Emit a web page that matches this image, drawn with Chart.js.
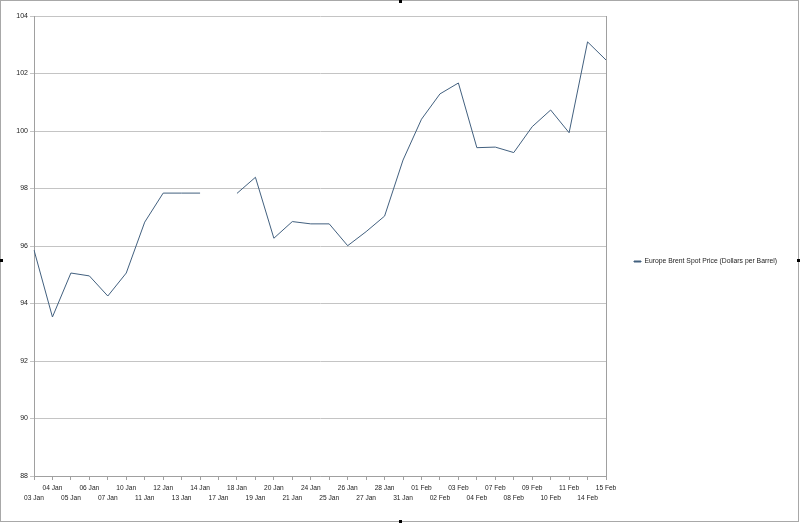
<!DOCTYPE html>
<html>
<head>
<meta charset="utf-8">
<script src="https://cdn.jsdelivr.net/npm/chart.js@4/dist/chart.umd.min.js"></script>
<style>
  html, body { margin: 0; padding: 0; background: #fff; }
  #wrap { position: relative; width: 800px; height: 523px; }
  #grafico { position: absolute; left: 0; top: 0; }
  #marco { position: absolute; left: 0; top: 0; width: 799px; height: 522px; box-sizing: border-box; border: 1px solid #a8a8a8; pointer-events: none; }
  .asa { position: absolute; width: 3px; height: 3px; background: #000; }
</style>
</head>
<body>
<div id="wrap">
  <canvas id="grafico" width="800" height="523"></canvas>
  <div id="marco"></div>
  <div class="asa" style="left:399px;top:0"></div>
  <div class="asa" style="left:0;top:259px"></div>
  <div class="asa" style="left:797px;top:259px"></div>
  <div class="asa" style="left:399px;top:520px"></div>
</div>
<script>
// fechas (dias habiles)
const fechas = [
  "03 Jan", "04 Jan", "05 Jan", "06 Jan", "07 Jan", "10 Jan", "11 Jan", "12 Jan",
  "13 Jan", "14 Jan", "17 Jan", "18 Jan", "19 Jan", "20 Jan", "21 Jan", "24 Jan",
  "25 Jan", "26 Jan", "27 Jan", "28 Jan", "31 Jan", "01 Feb", "02 Feb", "03 Feb",
  "04 Feb", "07 Feb", "08 Feb", "09 Feb", "10 Feb", "11 Feb", "14 Feb", "15 Feb"
];

// Europe Brent spot price, dolares por barril (17 Jan sin dato)
const precios = [
  95.86, 93.53, 95.06, 94.96, 94.26, 95.06, 96.83, 97.84,
  97.84, 97.84, null, 97.83, 98.39, 96.27, 96.85, 96.77,
  96.77, 96.01, 96.50, 97.04, 98.99, 100.41, 101.29, 101.67,
  99.42, 99.44, 99.25, 100.15, 100.73, 99.94, 103.10, 102.47
];

const ejeY = [88, 90, 92, 94, 96, 98, 100, 102, 104];

const fuente = { family: "'Liberation Sans', Arial, sans-serif", size: 7 };

// marco del area de trazado
const bordeArea = {
  id: "bordeArea",
  afterDraw(chart) {
    const { ctx, chartArea } = chart;
    ctx.save();
    ctx.strokeStyle = "#a0a0a0";
    ctx.lineWidth = 1;
    ctx.beginPath();
    ctx.moveTo(Math.round(chartArea.right) + 0.5, chartArea.top);
    ctx.lineTo(Math.round(chartArea.right) + 0.5, chartArea.bottom);
    ctx.stroke();
    ctx.restore();
  }
};

const ctx = document.getElementById("grafico").getContext("2d");
new Chart(ctx, {
  type: "line",
  data: {
    labels: fechas,
    datasets: [{
      label: "Europe Brent Spot Price (Dollars per Barrel)",
      data: precios,
      borderColor: "#42607f",
      backgroundColor: "#42607f",
      borderWidth: 1,
      pointRadius: 0,
      tension: 0,
      spanGaps: false
    }]
  },
  options: {
    responsive: false,
    animation: false,
    layout: { padding: { top: 0, right: 13, left: 0, bottom: 0 } },
    plugins: {
      tooltip: { enabled: false },
      legend: {
        position: "right",
        labels: {
          font: Object.assign({}, fuente, { size: 6.8 }),
          color: "#222",
          boxWidth: 7,
          boxHeight: 1,
          padding: 28
        }
      }
    },
    scales: {
      // eje vacio arriba, solo para dejar el margen superior
      xArriba: {
        type: "category",
        position: "top",
        ticks: { display: false },
        grid: { display: false },
        border: { display: false },
        afterFit: s => { s.height = 16; }
      },
      x: {
        offset: false,
        grid: { drawOnChartArea: false, drawTicks: true, tickLength: 4, color: "#a0a0a0" },
        border: { color: "#a0a0a0" },
        ticks: {
          autoSkip: false,
          maxRotation: 0,
          minRotation: 0,
          padding: 4,
          color: "#222",
          font: Object.assign({}, fuente, { size: 6.6, lineHeight: 1.4 }),
          callback: function (v, i) {
            return i % 2 === 1 ? [fechas[i], ""] : ["", fechas[i]];
          }
        },
        afterFit: s => { s.height = 47; }
      },
      y: {
        min: ejeY[0],
        max: ejeY[ejeY.length - 1],
        grid: { color: "#c4c4c4", tickLength: 4 },
        border: { color: "#a0a0a0" },
        ticks: {
          stepSize: 2,
          padding: 2,
          color: "#222",
          font: fuente
        },
        afterFit: s => { s.width = 34; }
      }
    }
  },
  plugins: [bordeArea]
});
</script>
</body>
</html>
